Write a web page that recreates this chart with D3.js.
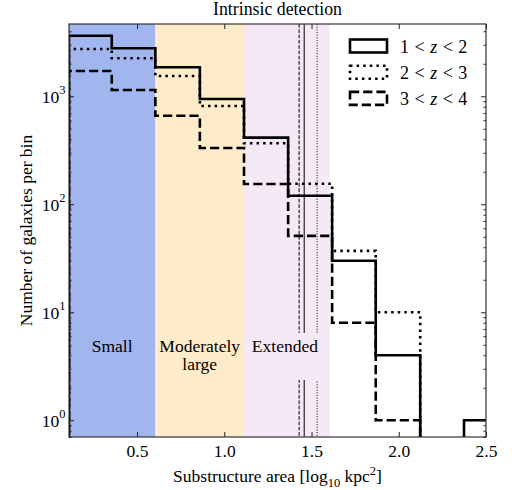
<!DOCTYPE html>
<html>
<head>
<meta charset="utf-8">
<script src="https://cdn.jsdelivr.net/npm/d3@7"></script>
<style>
  body { margin: 0; background: #fff; }
  text { font-family: "Liberation Serif", "DejaVu Serif", serif; fill: #000; }
</style>
</head>
<body>
<div id="chart"></div>
<script>
// bin edges of the histogram (log10 kpc^2)
var binEdges = [0.11, 0.355, 0.605, 0.86, 1.113, 1.366, 1.618, 1.868, 2.123, 2.374, 2.627];

// counts per bin for each redshift slice
var seriesNames = ['1 < z < 2', '2 < z < 3', '3 < z < 4'];
var countsZ1 = [3640, 2783, 1855, 944, 414, 120, 30, 4, 0, 1];
var countsZ2 = [2740, 2250, 1540, 813, 367, 155, 37, 10, 0, 0];
var countsZ3 = [1714, 1143, 660, 332, 154, 51, 8, 1, 0, 0];

// median markers
var medians = [1.458, 1.532, 1.429];

// size classes
var regionNames = ['Small', 'Moderately|large', 'Extended'];
var regionEdges = [0.11, 0.605, 1.113, 1.605];
var regionColors = ['#a1b5ee', '#feebca', '#f5e9f6'];

var xTicks = [0.5, 1.0, 1.5, 2.0, 2.5];
var yTicks = [1, 10, 100, 1000];

var W = 521, H = 490;
var margin = { top: 24, right: 35, bottom: 53, left: 69 };
var width = W - margin.left - margin.right,
    height = H - margin.top - margin.bottom;

var FS = '17.5px';

var svg = d3.select('#chart').append('svg')
  .attr('width', W)
  .attr('height', H);

var g = svg.append('g')
  .attr('transform', 'translate(' + margin.left + ',' + margin.top + ')');

var x = d3.scaleLinear().domain([0.11, 2.5]).range([0, width]);
var y = d3.scaleLog().domain([0.7, 4670]).range([height, 0]);

svg.append('defs').append('clipPath').attr('id', 'plotclip')
  .append('rect').attr('width', width).attr('height', height);

var plot = g.append('g').attr('clip-path', 'url(#plotclip)');

// shaded regions
plot.selectAll('.region')
  .data(regionNames)
  .enter()
  .append('rect')
  .attr('class', 'region')
  .attr('x', function(d, i) { return x(regionEdges[i]); })
  .attr('width', function(d, i) { return x(regionEdges[i + 1]) - x(regionEdges[i]); })
  .attr('y', 0)
  .attr('height', height)
  .attr('fill', function(d, i) { return regionColors[i]; });

// median lines
var medDash = ['none', '1,1.65', '3.7,1.6'];
plot.selectAll('.median')
  .data(medians)
  .enter()
  .append('line')
  .attr('class', 'median')
  .attr('x1', function(d) { return x(d); })
  .attr('x2', function(d) { return x(d); })
  .attr('y1', 0)
  .attr('y2', height)
  .attr('stroke', '#000')
  .attr('stroke-width', 1)
  .attr('stroke-dasharray', function(d, i) { return medDash[i]; });

// label box for "Extended" breaks the median lines
plot.append('rect')
  .attr('x', 179).attr('y', 309)
  .attr('width', 78).attr('height', 47)
  .attr('fill', regionColors[2]);

// step histograms
var allCounts = [countsZ1, countsZ2, countsZ3];
var histDash = ['none', '2.5,4.1', '9.2,4'];

function yv(v) { return v > 0 ? y(v) : height + 10; }

function stepPoints(counts) {
  var pts = [[x(binEdges[0]), height + 10]];
  counts.forEach(function(c, i) {
    pts.push([x(binEdges[i]), yv(c)]);
    pts.push([x(binEdges[i + 1]), yv(c)]);
  });
  pts.push([x(binEdges[binEdges.length - 1]), height + 10]);
  return pts;
}

var line = d3.line();

plot.selectAll('.hist')
  .data(allCounts)
  .enter()
  .append('path')
  .attr('class', 'hist')
  .attr('d', function(d) { return line(stepPoints(d)); })
  .attr('fill', 'none')
  .attr('stroke', '#000')
  .attr('stroke-width', 2.6)
  .attr('stroke-dasharray', function(d, i) { return histDash[i]; });

// region labels
regionNames.forEach(function(name, i) {
  var cx = x((regionEdges[i] + regionEdges[i + 1]) / 2) + (i == 2 ? -2 : 0);
  var t = g.append('text')
    .attr('x', cx)
    .attr('y', 327.5)
    .attr('text-anchor', 'middle')
    .style('font-size', FS);
  name.split('|').forEach(function(part, j) {
    t.append('tspan').attr('x', cx).attr('dy', j === 0 ? 0 : 18.5).text(part);
  });
});

// axes
var minorY = [];
[0.1, 1, 10, 100, 1000].forEach(function(p) {
  for (var k = 2; k <= 9; k++) {
    var v = p * k;
    if (v >= 0.7 && v <= 4670) minorY.push(v);
  }
});

g.append('g')
  .attr('class', 'axis')
  .attr('transform', 'translate(0,' + height + ')')
  .call(d3.axisBottom(x).tickValues(xTicks).tickSize(-5).tickPadding(7.5)
    .tickFormat(d3.format('.1f')));

g.append('g')
  .attr('class', 'axis')
  .call(d3.axisTop(x).tickValues(xTicks).tickSize(-5).tickFormat(''));

var yAxis = g.append('g')
  .attr('class', 'axis')
  .call(d3.axisLeft(y).tickValues(yTicks).tickSize(-5).tickPadding(3.5)
    .tickFormat(function() { return ''; }));

yAxis.selectAll('.tick text').each(function(d) {
  var t = d3.select(this);
  t.attr('dy', '0.33em');
  t.append('tspan').text('10');
  t.append('tspan').attr('dy', -8.5).style('font-size', '12.5px')
    .text(Math.round(Math.log10(d)));
});

g.append('g')
  .attr('class', 'axis')
  .call(d3.axisLeft(y).tickValues(minorY).tickSize(-2.5).tickFormat(''));

g.append('g')
  .attr('class', 'axis')
  .attr('transform', 'translate(' + width + ',0)')
  .call(d3.axisRight(y).tickValues(yTicks).tickSize(-5).tickFormat(''));

g.append('g')
  .attr('class', 'axis')
  .attr('transform', 'translate(' + width + ',0)')
  .call(d3.axisRight(y).tickValues(minorY).tickSize(-2.5).tickFormat(''));

g.selectAll('.axis .domain').remove();
g.selectAll('.axis text').style('font-size', FS)
  .style('font-family', '"Liberation Serif", serif');
g.selectAll('.axis line').attr('stroke', '#222');

// frame
g.append('rect')
  .attr('width', width).attr('height', height)
  .attr('fill', 'none').attr('stroke', '#333').attr('stroke-width', 1.2);

// title
svg.append('text')
  .attr('x', margin.left + width / 2)
  .attr('y', 15)
  .attr('text-anchor', 'middle')
  .style('font-size', '17.8px')
  .text('Intrinsic detection');

// x label
var xl = svg.append('text')
  .attr('x', margin.left + width / 2)
  .attr('y', 482)
  .attr('text-anchor', 'middle')
  .style('font-size', FS);
xl.append('tspan').text('Substructure area [log');
xl.append('tspan').attr('dy', 4.5).style('font-size', '12.5px').text('10');
xl.append('tspan').attr('dy', -4.5).text(' kpc');
xl.append('tspan').attr('dy', -7).style('font-size', '12.5px').text('2');
xl.append('tspan').attr('dy', 7).text(']');

// y label
svg.append('text')
  .attr('transform', 'translate(32,' + (margin.top + height / 2) + ') rotate(-90)')
  .attr('text-anchor', 'middle')
  .style('font-size', FS)
  .text('Number of galaxies per bin');

// legend
var legend = svg.append('g').attr('transform', 'translate(350,39.5)');
seriesNames.forEach(function(name, i) {
  var row = legend.append('g').attr('transform', 'translate(0,' + (i * 26.2) + ')');
  row.append('rect')
    .attr('width', 37).attr('height', 13)
    .attr('fill', 'none')
    .attr('stroke', '#000')
    .attr('stroke-width', 2.6)
    .attr('stroke-dasharray', histDash[i]);
  // math-style spacing around the relations
  var parts = name.split(' ');
  var t = row.append('text').attr('x', 50).attr('y', 13.5).style('font-size', '18px');
  parts.forEach(function(p, j) {
    var ts = t.append('tspan').attr('dx', j === 0 ? 0 : 5.5).text(p);
    if (p === 'z') ts.style('font-style', 'italic');
  });
});
</script>
</body>
</html>
